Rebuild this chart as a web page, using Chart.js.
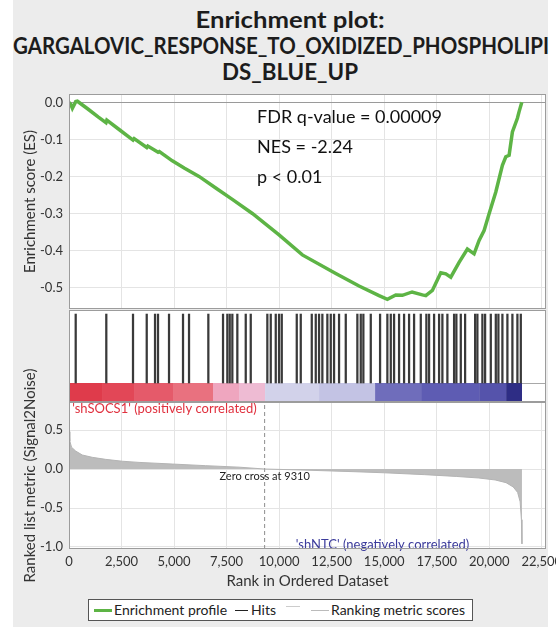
<!DOCTYPE html>
<html>
<head>
<meta charset="utf-8">
<script src="https://cdn.jsdelivr.net/npm/chart.js@4.4.1/dist/chart.umd.min.js"></script>
<style>
body { margin: 0; background: #fff; font-family: Lato, sans-serif; }
#wrap { position: relative; width: 556px; height: 630px; overflow: hidden; }
#panel { position: absolute; left: 13px; top: 0; width: 535px; height: 627px; background: #ececec; }
#title { position: absolute; left: 0; top: 0; }
canvas { position: absolute; }
#legend { position: absolute; left: 88px; top: 599px; width: 383px; height: 20px; border: 1px solid #555;
          background: #fff; font-size: 14px; color: #222; }
#legend .sw { position: absolute; height: 0; }
#legend .tx { position: absolute; top: 1px; white-space: nowrap; }
</style>
</head>
<body>
<div id="wrap">
  <div id="panel"></div>
  <svg id="title" width="556" height="90" font-family="Lato" font-weight="bold" font-size="22" fill="#1c1c1c">
    <text x="290" y="28" text-anchor="middle" textLength="189" lengthAdjust="spacingAndGlyphs">Enrichment plot:</text>
    <text x="281" y="54" text-anchor="middle" textLength="536" lengthAdjust="spacingAndGlyphs">GARGALOVIC_RESPONSE_TO_OXIDIZED_PHOSPHOLIPI</text>
    <text x="290" y="80" text-anchor="middle" textLength="136" lengthAdjust="spacingAndGlyphs">DS_BLUE_UP</text>
  </svg>
  <canvas id="esChart" width="535" height="220" style="left:13px;top:90px"></canvas>
  <canvas id="hitChart" width="535" height="92" style="left:13px;top:310px"></canvas>
  <canvas id="metricChart" width="543" height="257" style="left:13px;top:340px"></canvas>
  <div id="legend">
    <div class="sw" style="left:5px;top:9px;width:18px;border-top:3px solid #5db445"></div>
    <div class="tx" style="left:25px">Enrichment profile</div>
    <div class="sw" style="left:146px;top:10px;width:13px;border-top:1px solid #222"></div>
    <div class="tx" style="left:162px">Hits</div>
    <div class="sw" style="left:197px;top:6px;width:14px;border-top:1px solid #ccc"></div>
    <div class="sw" style="left:222px;top:10px;width:18px;border-top:1px solid #bbb"></div>
    <div class="tx" style="left:242px">Ranking metric scores</div>
  </div>
</div>
<script>
// ranks of the gene set members in the ordered list
const hitRanks = [319, 1775, 3046, 3699, 4094, 4236, 4760, 5426, 5712, 6631, 7330, 7535, 7649, 7773,
  8011, 8411, 8649, 9439, 9601, 9839, 9996, 10125, 10839, 11029, 11553, 11743, 11900, 12057, 12295,
  12457, 12614, 12852, 13171, 13723, 13885, 14009, 14361, 14804, 15151, 15313, 15470, 15708, 15946,
  16184, 16422, 16741, 17007, 17136, 17374, 17612, 17769, 18007, 18326, 18435, 18645, 18850, 19326,
  19435, 19673, 19802, 20073, 20311, 20435, 20625, 20863, 21101, 21339, 21501];

// running enrichment score
const esRanks = [0, 80, 160, 320, 400, 900, 1400, 1760, 1800, 2400, 3046, 3100, 3700, 3750, 4240,
  4300, 4917, 5500, 6188, 7000, 7773, 8725, 9996, 11105, 12695, 13804, 14756, 15151, 15551, 15865,
  16327, 16817, 16979, 17293, 17693, 17931, 18169, 18564, 18959, 19278, 19516, 19754, 19992, 20311,
  20625, 20787, 20944, 21101, 21339, 21420, 21549];
const esScores = [0.0, -0.005, -0.016, 0.002, 0.003, -0.018, -0.040, -0.055, -0.048, -0.074, -0.102,
  -0.098, -0.122, -0.118, -0.135, -0.133, -0.158, -0.178, -0.200, -0.232, -0.262, -0.300, -0.358,
  -0.412, -0.462, -0.496, -0.522, -0.532, -0.520, -0.521, -0.512, -0.520, -0.522, -0.508, -0.460,
  -0.463, -0.472, -0.432, -0.396, -0.409, -0.373, -0.346, -0.301, -0.242, -0.170, -0.147, -0.143,
  -0.080, -0.043, -0.025, 0.0];

// ranked list metric (Signal2Noise)
const metricRanks = [0, 40, 120, 319, 633, 1109, 1745, 2538, 3332, 4919, 6507, 8092, 9310, 11000,
  13560, 15000, 16923, 18430, 19500, 20280, 20800, 21140, 21350, 21470, 21530, 21555];
const metricScores = [0.48, 0.36, 0.28, 0.23, 0.18, 0.15, 0.124, 0.10, 0.085, 0.064, 0.043, 0.024,
  0.0, -0.012, -0.034, -0.048, -0.072, -0.095, -0.115, -0.14, -0.175, -0.23, -0.3, -0.42, -0.65, -0.96];
const zeroCross = 9310;

// heat bar under the hits
const segStarts = [0, 1571, 3094, 4950, 6854, 8092, 9330, 11900, 14566, 16755, 19516, 20801];
const segEnds = [1571, 3094, 4950, 6854, 8092, 9330, 11900, 14566, 16755, 19516, 20801, 21560];
const segColors = ['#df3b4b', '#e24757', '#e55a6a', '#e9717f', '#efa6bf', '#eebbd3', '#d2d2ea',
  '#c3c3e4', '#6f6dbb', '#5e5cb3', '#5553ab', '#2e2d85'];

// axis ticks
const xTicks = [0, 2500, 5000, 7500, 10000, 12500, 15000, 17500, 20000, 22500];
const esTicks = [0.0, -0.1, -0.2, -0.3, -0.4, -0.5];
const metricTicks = [0.5, 0.0, -0.5, -1.0];

const xMax = 22700;
const tickFont = { family: 'Lato', size: 13 };
const titleFont = { family: 'Lato', size: 15 };

// white plot area + grey frame
const frame = {
  id: 'frame',
  beforeDraw(chart) {
    const { ctx, chartArea: a } = chart;
    ctx.save();
    ctx.fillStyle = '#fff';
    ctx.fillRect(a.left, a.top, a.width, a.height);
    ctx.restore();
  },
  afterDraw(chart) {
    const { ctx, chartArea: a } = chart;
    ctx.save();
    ctx.strokeStyle = '#9c9c9c';
    ctx.lineWidth = 1;
    ctx.strokeRect(Math.round(a.left) + 0.5, Math.round(a.top) + 0.5,
      Math.round(a.width) - 1, Math.round(a.height) - 1);
    ctx.restore();
  }
};

// text notes placed in data coordinates
const notes = {
  id: 'notes',
  afterDatasetsDraw(chart, args, opts) {
    const { ctx, scales } = chart;
    (opts.items || []).forEach(n => {
      ctx.save();
      ctx.font = n.font;
      ctx.fillStyle = n.color;
      ctx.textAlign = n.align || 'left';
      ctx.textBaseline = 'middle';
      ctx.fillText(n.text, scales.x.getPixelForValue(n.x), scales.y.getPixelForValue(n.y));
      ctx.restore();
    });
  }
};

const setTicks = vals => s => { s.ticks = vals.map(v => ({ value: v })); };
function yWidth(s) { s.width = 56; s.paddingTop = 0; s.paddingBottom = 0; }
function xNoPad(s) { s.paddingLeft = 0; s.paddingRight = 0; }
const fmt1 = v => v.toFixed(1);
const lightGrid = '#e4e4e4';

// Enrichment score panel
new Chart(document.getElementById('esChart'), {
  type: 'line',
  data: {
    datasets: [{
      data: esRanks.map((r, i) => ({ x: r, y: esScores[i] })),
      borderColor: '#5db445',
      borderWidth: 3.5,
      pointRadius: 0,
      tension: 0
    }]
  },
  options: {
    responsive: false,
    animation: false,
    layout: { padding: { top: 4, bottom: 1, right: 2, left: 0 } },
    plugins: {
      legend: { display: false },
      tooltip: { enabled: false },
      notes: { items: [
        { text: 'FDR q-value = 0.00009', x: 8950, y: -0.040, font: '18px Lato', color: '#111' },
        { text: 'NES = -2.24', x: 8950, y: -0.121, font: '18px Lato', color: '#111' },
        { text: 'p < 0.01', x: 8950, y: -0.202, font: '18px Lato', color: '#111' }
      ] }
    },
    scales: {
      x: {
        type: 'linear', min: 0, max: xMax,
        ticks: { display: false },
        grid: { color: lightGrid, drawTicks: false },
        border: { display: false },
        afterBuildTicks: setTicks(xTicks),
        afterFit(s) { s.height = 0; xNoPad(s); }
      },
      y: {
        min: -0.558, max: 0.0225,
        ticks: { padding: 6, font: tickFont, color: '#333', callback: fmt1 },
        grid: { color: c => c.tick.value === 0 ? '#9a9a9a' : lightGrid, drawTicks: false },
        border: { display: false },
        title: { display: true, text: 'Enrichment score (ES)', font: titleFont, color: '#333', padding: { top: 8 } },
        afterBuildTicks: setTicks(esTicks),
        afterFit: yWidth
      }
    }
  },
  plugins: [frame, notes]
});

// Hits + heat bar panel
const barTop = 19 / 92;
const hitTop = 0.956;
new Chart(document.getElementById('hitChart'), {
  type: 'bar',
  data: {
    datasets: [{
      data: hitRanks.map(r => ({ x: r, y: [barTop, hitTop] })),
      backgroundColor: '#3a3a3a',
      barThickness: 1.6
    }].concat(segStarts.map((s, i) => ({
      type: 'line',
      data: [{ x: s, y: barTop }, { x: segEnds[i], y: barTop }],
      fill: 'origin',
      backgroundColor: segColors[i],
      borderColor: segColors[i],
      borderWidth: 0,
      pointRadius: 0
    })))
  },
  options: {
    responsive: false,
    animation: false,
    layout: { padding: { top: 0, bottom: 0, right: 2, left: 0 } },
    plugins: { legend: { display: false }, tooltip: { enabled: false } },
    scales: {
      x: { type: 'linear', min: 0, max: xMax, offset: false, display: false, grid: { offset: false } },
      y: {
        min: 0, max: 1,
        ticks: { display: false },
        grid: { color: '#a8a8a8', drawTicks: false },
        border: { display: false },
        afterBuildTicks: setTicks([barTop]),
        afterFit: yWidth
      }
    }
  },
  plugins: [frame]
});

// Ranked list metric panel
const mMin = -1.026, mMax = 0.86;
new Chart(document.getElementById('metricChart'), {
  type: 'line',
  data: {
    datasets: [{
      data: metricRanks.map((r, i) => ({ x: r, y: metricScores[i] })),
      borderColor: '#b4b4b4',
      backgroundColor: '#bcbcbc',
      borderWidth: 1,
      fill: 'origin',
      pointRadius: 0,
      tension: 0
    }, {
      data: [{ x: zeroCross, y: mMin }, { x: zeroCross, y: mMax }],
      borderColor: '#8c8c8c',
      borderWidth: 1,
      borderDash: [4, 3],
      pointRadius: 0
    }]
  },
  options: {
    responsive: false,
    animation: false,
    layout: { padding: { top: 62, bottom: 0, right: 10, left: 0 } },
    plugins: {
      legend: { display: false },
      tooltip: { enabled: false },
      notes: { items: [
        { text: "'shSOCS1' (positively correlated)", x: 150, y: 0.77, font: '13px Lato', color: '#e0303e' },
        { text: 'Zero cross at 9310', x: zeroCross, y: -0.10, font: '11px Lato', color: '#222', align: 'center' },
        { text: "'shNTC' (negatively correlated)", x: 19050, y: -0.975, font: '13px Lato', color: '#3c3c9c', align: 'right' }
      ] }
    },
    scales: {
      x: {
        type: 'linear', min: 0, max: xMax,
        ticks: { padding: 5, font: tickFont, color: '#333', maxRotation: 0, autoSkip: false,
                 callback: v => v.toLocaleString('en-US') },
        grid: { color: lightGrid, drawTicks: false },
        border: { display: false },
        title: { display: true, text: 'Rank in Ordered Dataset', font: titleFont, color: '#333', padding: { bottom: 7 } },
        afterBuildTicks: setTicks(xTicks),
        afterFit(s) { s.height = 48; xNoPad(s); }
      },
      y: {
        min: mMin, max: mMax,
        ticks: { padding: 6, font: tickFont, color: '#333', callback: fmt1 },
        grid: { color: lightGrid, drawTicks: false },
        border: { display: false },
        title: { display: true, text: 'Ranked list metric (Signal2Noise)', font: titleFont, color: '#333', padding: { top: 8 } },
        afterBuildTicks: setTicks(metricTicks),
        afterFit: yWidth
      }
    }
  },
  plugins: [frame, notes]
});
</script>
</body>
</html>
